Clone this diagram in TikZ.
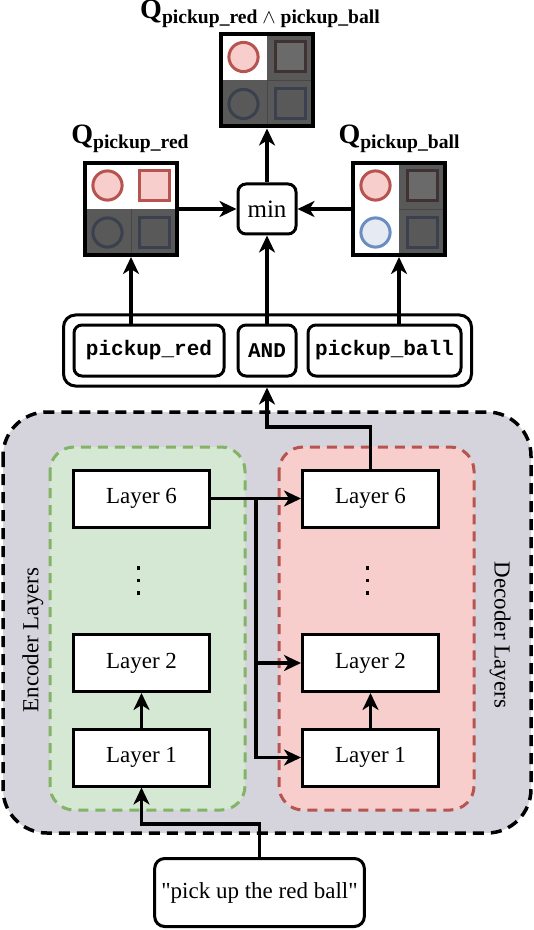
\documentclass[tikz,border=0pt]{standalone}
\usepackage{fontspec}
\setmainfont{Liberation Serif}
\setmonofont{Liberation Mono}
\usetikzlibrary{arrows.meta}

\definecolor{encfill}{HTML}{D5E8D4}
\definecolor{encline}{HTML}{82B366}
\definecolor{decfill}{HTML}{F8CECC}
\definecolor{decline}{HTML}{B85450}
\definecolor{bluefill}{HTML}{E6EAF3}
\definecolor{blueline}{HTML}{6C8EBF}
\definecolor{shell}{RGB}{213,211,220}
\definecolor{darkcell}{RGB}{89,89,89}
\definecolor{darkred}{RGB}{62,50,50}
\definecolor{darkblue}{RGB}{58,64,78}

\newcommand{\qsub}[1]{\raisebox{-0.35ex}{\fontsize{9.8}{11}\selectfont #1}}

\tikzset{
  layerbox/.style={draw, fill=white, line width=1.5pt, minimum width=68pt, minimum height=28.5pt, inner sep=0pt, font=\fontsize{11.5}{13}\selectfont},
  cmdbox/.style={draw, fill=white, rounded corners=4pt, line width=1.5pt, minimum height=25.5pt, inner sep=0pt, font=\fontsize{10.5}{12}\selectfont\ttfamily\bfseries},
  link/.style={line width=1.6pt, -{Stealth[length=8.5pt,width=8pt,inset=2.5pt]}},
  qgrid/.style={draw, line width=2pt, minimum size=46pt, inner sep=0pt},
  qlabel/.style={font=\fontsize{14}{16}\selectfont\bfseries},
  redball/.style={fill=decfill, draw=decline, line width=1.5pt},
  blueball/.style={fill=bluefill, draw=blueline, line width=1.5pt},
  darkredobj/.style={fill=darkcell!90!white, draw=darkred, line width=1.5pt},
  darkblueobj/.style={fill=darkcell, draw=darkblue, line width=1.5pt},
  cellline/.style={draw=darkcell!80!black, line width=0.3pt},
  dot/.style={fill=black},
}

\begin{document}
\begin{tikzpicture}[x=0.5pt,y=-0.5pt]
\useasboundingbox (0,0) rectangle (534,930);

% encoder / decoder background
\draw[fill=shell, line width=1.75pt, dash pattern=on 5.5pt off 3.5pt, rounded corners=22pt] (3,412) rectangle (531,833);
\draw[fill=encfill, draw=encline, line width=1.5pt, dash pattern=on 5pt off 3.5pt, rounded corners=12pt] (50,447) rectangle (245,810);
\draw[fill=decfill, draw=decline, line width=1.5pt, dash pattern=on 5pt off 3.5pt, rounded corners=12pt] (279,447) rectangle (474,810);
\node[rotate=90, font=\fontsize{11.5}{13}\selectfont] (enclabel) at (33,640) {Encoder Layers};
\node[rotate=-90, font=\fontsize{11.5}{13}\selectfont] (declabel) at (500,635) {Decoder Layers};

% layers
\node[layerbox] (enc6) at (141.5,498.5) {Layer 6};
\node[layerbox] (enc2) at (141.5,663) {Layer 2};
\node[layerbox] (enc1) at (141.5,757.5) {Layer 1};
\node[layerbox] (dec6) at (370.5,498.5) {Layer 6};
\node[layerbox] (dec2) at (370.5,663) {Layer 2};
\node[layerbox] (dec1) at (370.5,757.5) {Layer 1};
\foreach \y in {568,580.5,593} {
  \fill[dot] (136.5,\y-1.6) rectangle (139.5,\y+1.6);
  \fill[dot] (365.5,\y-1.6) rectangle (368.5,\y+1.6);
}

\node[draw, rounded corners=5pt, line width=1.5pt, minimum width=101pt, minimum height=34pt, font=\fontsize{11.5}{13}\selectfont] (input) at (259.5,892.5) {\textquotedbl pick up the red ball\textquotedbl};

% commands
\node[draw, fill=white, rounded corners=6pt, line width=1.5pt, minimum width=204pt, minimum height=35.5pt] (cmds) at (267.5,350.5) {};
\node[cmdbox, minimum width=75pt] (cmdred) at (149,350.5) {pickup\_red};
\node[cmdbox, minimum width=29pt] (cmdand) at (267,350.5) {AND};
\node[cmdbox, minimum width=76.5pt] (cmdball) at (384.5,350.5) {pickup\_ball};

\node[draw, fill=white, rounded corners=4pt, line width=1.5pt, minimum width=29pt, minimum height=25pt, font=\fontsize{12.5}{14}\selectfont] (min) at (267,209) {min};

% Q grids
\begin{scope}[shift={(131,209)}]
\fill[white] (-47,-47) rectangle (47,0);
\fill[darkcell] (-47,0) rectangle (47,47);
\draw[cellline] (0,0) -- (0,47);
\draw[redball] (-23.5,-23.5) circle (7.3pt);
\draw[redball] (8.5,-38.5) rectangle (38.5,-8.5);
\draw[darkblueobj] (-23.5,23.5) circle (7.3pt);
\draw[darkblueobj] (8.5,8.5) rectangle (38.5,38.5);
\end{scope}
\node[qgrid] (qred) at (131,209) {};
\node[qlabel] (qredlabel) at (130,139) {Q\qsub{pickup\_red}};

\begin{scope}[shift={(399,209)}]
\fill[white] (-47,-47) rectangle (0,47);
\fill[darkcell] (0,-47) rectangle (47,47);
\draw[cellline] (0,0) -- (47,0);
\draw[redball] (-23.5,-23.5) circle (7.3pt);
\draw[blueball] (-23.5,23.5) circle (7.3pt);
\draw[darkredobj] (8.5,-38.5) rectangle (38.5,-8.5);
\draw[darkblueobj] (8.5,8.5) rectangle (38.5,38.5);
\end{scope}
\node[qgrid] (qball) at (399,209) {};
\node[qlabel] (qballlabel) at (399,139) {Q\qsub{pickup\_ball}};

\begin{scope}[shift={(267,80.5)}]
\fill[darkcell] (-47,-47) rectangle (47,47);
\fill[white] (-47,-47) rectangle (0,0);
\draw[cellline] (0,0) -- (0,47);
\draw[cellline] (0,0) -- (47,0);
\draw[redball] (-23.5,-23.5) circle (7.3pt);
\draw[darkredobj] (8.5,-38.5) rectangle (38.5,-8.5);
\draw[darkblueobj] (-23.5,23.5) circle (7.3pt);
\draw[darkblueobj] (8.5,8.5) rectangle (38.5,38.5);
\end{scope}
\node[qgrid] (qand) at (267,80.5) {};
\node[qlabel] (qandlabel) at (260,14) {Q\qsub{pickup\_red $\wedge$ pickup\_ball}};

% connectors
\coordinate (inbend) at (200,824);
\coordinate (split) at (256,498.5);
\coordinate (outbend) at (267,427);
\draw[link] (input.north) |- (inbend) -| (enc1.south);
\draw[link] (enc1) -- (enc2);
\draw[link] (dec1) -- (dec2);
\draw[link] (enc6.east) -- (dec6.west);
\draw[link] (split) |- (dec2.west);
\draw[link] (split) |- (dec1.west);
\draw[link] (dec6.north) |- (outbend) -- (cmds.south -| outbend);
\draw[link] (cmdred.north -| qred.south) -- (qred.south);
\draw[link] (cmdand.north) -- (min.south);
\draw[link] (cmdball.north -| qball.south) -- (qball.south);
\draw[link] (qred.east) -- (min.west);
\draw[link] (qball.west) -- (min.east);
\draw[link] (min.north) -- (qand.south);
\end{tikzpicture}
\end{document}
